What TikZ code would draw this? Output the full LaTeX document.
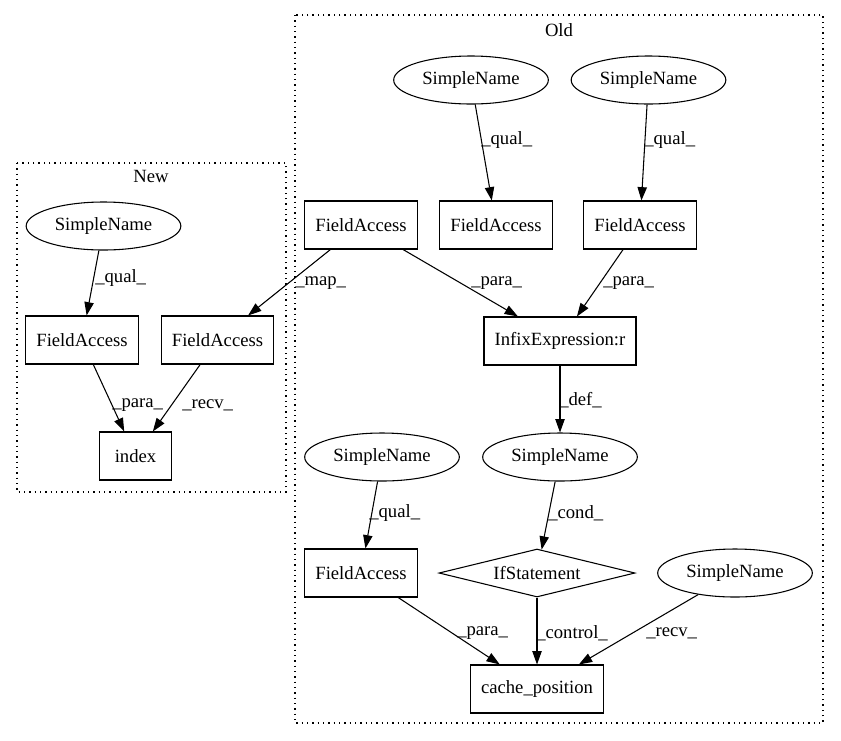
\documentclass[tikz,border=0pt]{standalone}
\usepackage{fontspec}
\setmainfont{Liberation Serif}
\usetikzlibrary{shapes.geometric, arrows.meta}

\begin{document}
\begin{tikzpicture}[x=0.75pt, y=-0.75pt, font=\fontsize{14}{16}\selectfont,
	box/.style={draw, rectangle, minimum width=54pt, minimum height=36pt, inner xsep=8pt, line width=0.8pt},
	sname/.style={draw, ellipse, minimum width=116pt, minimum height=36pt, inner sep=0pt, line width=0.8pt},
	cond/.style={draw, diamond, shape aspect=5, minimum width=147pt, minimum height=36pt, inner sep=0pt, line width=0.8pt},
	edge/.style={-{Triangle[length=10pt, width=7pt]}, line width=0.8pt},
	lbl/.style={anchor=west, inner sep=0pt},
	cluster/.style={line width=0.8pt, dash pattern=on 1pt off 3pt}]
			
			\useasboundingbox (0, 0) rectangle (841, 740);
			
			\draw[cluster] (17, 163) rectangle (286, 492);
			\node (newlbl) at (151, 176) {New};
			\draw[cluster] (295, 15) rectangle (823, 723);
			\node (oldlbl) at (559, 30) {Old};
			
			\node[sname] (nsn) at (103.5, 226) {SimpleName};
			\node[box] (nfa1) at (82, 340) {FieldAccess};
			\node[box] (nfa2) at (217.5, 340) {FieldAccess};
			\node[box] (idx) at (135.5, 456) {index};
			
			\node[sname] (osn1) at (471, 80) {SimpleName};
			\node[sname] (osn2) at (648.5, 80) {SimpleName};
			\node[box] (ofa1) at (361, 225) {FieldAccess};
			\node[box] (ofa2) at (496, 225) {FieldAccess};
			\node[box] (ofa3) at (640, 225) {FieldAccess};
			\node[box] (infix) at (560, 341) {InfixExpression:r};
			\node[sname] (osn3) at (560, 457) {SimpleName};
			\node[sname] (osn4) at (382, 457) {SimpleName};
			\node[box] (ofa4) at (361, 573) {FieldAccess};
			\node[cond] (ifs) at (537, 573) {IfStatement};
			\node[sname] (osn5) at (735, 573) {SimpleName};
			\node[box] (cache) at (537, 689) {cache\_position};
			
			\draw[edge] (nsn) -- (nfa1);
			\draw[edge] (nfa1) -- (idx);
			\draw[edge] (nfa2) -- (idx);
			\draw[edge] (ofa1) -- (nfa2);
			\draw[edge] (osn1) -- (ofa2);
			\draw[edge] (osn2) -- (ofa3);
			\draw[edge] (ofa1) -- (infix);
			\draw[edge] (ofa3) -- (infix);
			\draw[edge] (infix) -- (osn3);
			\draw[edge] (osn3) -- (ifs);
			\draw[edge] (osn4) -- (ofa4);
			\draw[edge] (ofa4) -- (cache);
			\draw[edge] (ifs) -- (cache);
			\draw[edge] (osn5) -- (cache);
			
			\node[lbl] (l1) at (95, 278) {\_qual\_};
			\node[lbl] (l2) at (112, 405) {\_para\_};
			\node[lbl] (l3) at (182, 405) {\_recv\_};
			\node[lbl] (l4) at (295, 283) {\_map\_};
			\node[lbl] (l5) at (481, 140) {\_qual\_};
			\node[lbl] (l6) at (644, 140) {\_qual\_};
			\node[lbl] (l7) at (471, 283) {\_para\_};
			\node[lbl] (l8) at (603, 283) {\_para\_};
			\node[lbl] (l9) at (559, 400) {\_def\_};
			\node[lbl] (l10) at (369, 513) {\_qual\_};
			\node[lbl] (l11) at (548, 513) {\_cond\_};
			\node[lbl] (l12) at (457, 633) {\_para\_};
			\node[lbl] (l13) at (536, 633) {\_control\_};
			\node[lbl] (l14) at (646, 633) {\_recv\_};
			
		\end{tikzpicture}
\end{document}
